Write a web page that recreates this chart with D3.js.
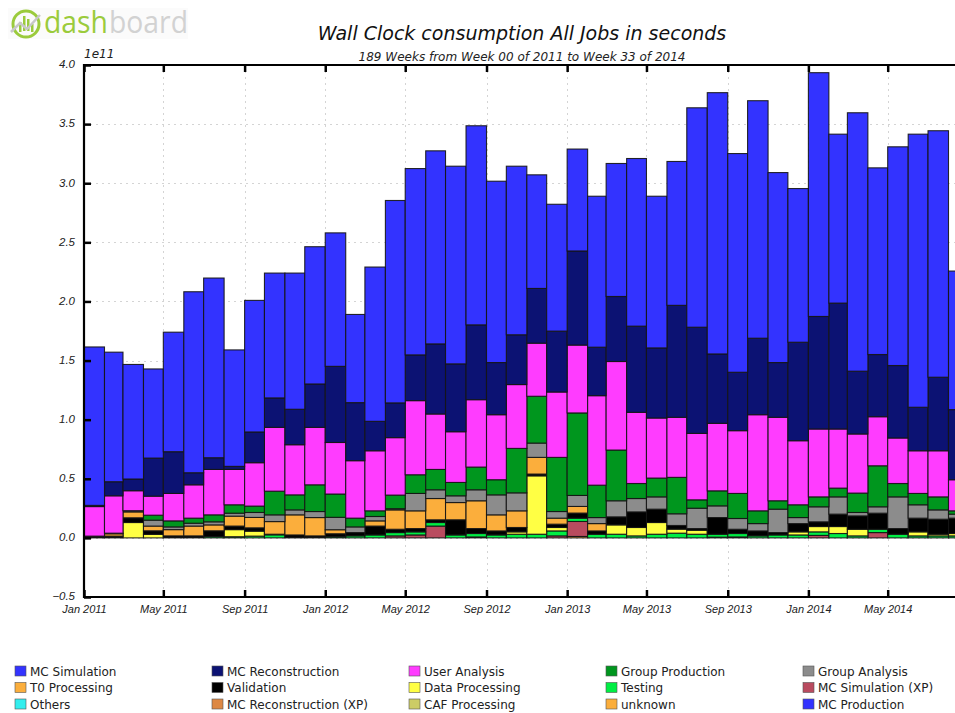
<!DOCTYPE html>
<html>
<head>
<meta charset="utf-8">
<script src="https://cdn.jsdelivr.net/npm/d3@7"></script>
<style>
  html, body { margin: 0; padding: 0; background: #fff; }
  svg { display: block; font-family: "DejaVu Sans", "Liberation Sans", sans-serif; }
</style>
</head>
<body>
<svg id="chart" width="955" height="713"></svg>
<script>
// Monthly bins (start of each month), values in units of 1e11 seconds.
const months = [
  "2011-01","2011-02","2011-03","2011-04","2011-05","2011-06","2011-07","2011-08","2011-09","2011-10","2011-11","2011-12",
  "2012-01","2012-02","2012-03","2012-04","2012-05","2012-06","2012-07","2012-08","2012-09","2012-10","2012-11","2012-12",
  "2013-01","2013-02","2013-03","2013-04","2013-05","2013-06","2013-07","2013-08","2013-09","2013-10","2013-11","2013-12",
  "2014-01","2014-02","2014-03","2014-04","2014-05","2014-06","2014-07","2014-08"
];

const mcSimulation = [
  1.34, 1.096, 0.969, 0.754, 1.011, 1.531, 1.52, 0.985, 1.113, 1.056, 1.152, 1.161,
  1.129, 0.746, 1.305, 1.712, 1.576, 1.633, 1.672, 1.684, 1.534, 1.426, 0.961, 1.073,
  0.862, 1.277, 1.125, 1.418, 1.283, 1.217, 1.856, 2.21, 1.85, 2.009, 1.607, 1.3,
  2.062, 1.429, 2.186, 1.579, 1.85, 2.31, 2.085, 1.172
];
const mcReconstruction = [
  0.01, 0.119, 0.099, 0.322, 0.353, 0.102, 0.099, 0.026, 0.26, 0.249, 0.3, 0.367,
  0.644, 0.491, 0.249, 0.294, 0.387, 0.593, 0.574, 0.633, 0.441, 0.421, 0.463, 0.515,
  0.796, 0.41, 0.55, 0.729, 0.593, 0.947, 0.898, 0.587, 0.494, 0.647, 0.463, 0.833,
  0.952, 1.065, 0.531, 0.526, 0.613, 0.368, 0.622, 0.593
];
const userAnalysis = [
  0.25, 0.316, 0.169, 0.161, 0.232, 0.282, 0.384, 0.299, 0.367, 0.54, 0.424, 0.486,
  0.436, 0.486, 0.508, 0.486, 0.627, 0.469, 0.429, 0.57, 0.55, 0.54, 0.449, 0.553,
  0.574, 0.757, 0.749, 0.602, 0.508, 0.508, 0.562, 0.571, 0.531, 0.813, 0.706, 0.542,
  0.574, 0.5, 0.5, 0.415, 0.385, 0.361, 0.39, 0.263
];
const groupProduction = [
  0, 0, 0, 0.042, 0.051, 0.043, 0.059, 0.071, 0.054, 0.2, 0.127, 0.226,
  0.197, 0.074, 0.048, 0.115, 0.158, 0.172, 0.113, 0.192, 0.128, 0.376, 0.396, 0.458,
  0.698, 0.274, 0.429, 0.127, 0.159, 0.308, 0.071, 0.127, 0.212, 0.108, 0.071, 0.108,
  0.084, 0.074, 0.164, 0.347, 0.113, 0.096, 0.11, 0.028
];
const groupAnalysis = [
  0, 0.005, 0.01, 0.05, 0.023, 0.024, 0.026, 0.025, 0.042, 0.057, 0.042, 0.051,
  0.105, 0.048, 0.037, 0.01, 0.147, 0.074, 0.057, 0.093, 0.169, 0.152, 0.121, 0.056,
  0.093, 0.051, 0.136, 0.113, 0.104, 0.099, 0.172, 0.099, 0.091, 0.062, 0.198, 0.051,
  0.127, 0.146, 0.029, 0.054, 0.268, 0.113, 0.079, 0.034
];
const t0Processing = [
  0, 0.02, 0.05, 0.04, 0.053, 0.083, 0.05, 0.084, 0.088, 0.107, 0.17, 0.155,
  0.034, 0, 0.044, 0.164, 0.15, 0.18, 0.146, 0.235, 0.136, 0.141, 0.141, 0.051,
  0.056, 0.062, 0, 0, 0, 0, 0, 0, 0, 0, 0, 0,
  0, 0, 0, 0, 0, 0, 0, 0
];
const validation = [
  0.01, 0.01, 0.04, 0.03, 0.012, 0.012, 0.049, 0.03, 0.028, 0.005, 0.02, 0.012,
  0.025, 0.028, 0.075, 0.028, 0.028, 0.023, 0.128, 0.042, 0.034, 0.037, 0.015, 0.028,
  0.043, 0.028, 0.068, 0.132, 0.113, 0.031, 0.014, 0.141, 0.036, 0.042, 0.02, 0.07,
  0.04, 0.105, 0.113, 0.136, 0.048, 0.116, 0.127, 0.13
];
const dataProcessing = [
  0, 0, 0.13, 0.03, 0, 0, 0, 0.06, 0.042, 0, 0, 0,
  0, 0, 0, 0, 0, 0, 0, 0, 0, 0.02, 0.494, 0.029,
  0, 0, 0.079, 0.071, 0.099, 0.034, 0.034, 0, 0, 0, 0, 0.026,
  0.045, 0.059, 0.056, 0, 0, 0.034, 0.014, 0.02
];
const testing = [
  0.005, 0.005, 0, 0, 0.005, 0.005, 0.011, 0.01, 0.015, 0.026, 0.005, 0.005,
  0.01, 0.017, 0.025, 0.028, 0.026, 0.03, 0.025, 0.029, 0.025, 0.031, 0.031, 0.042,
  0.028, 0.031, 0.031, 0.017, 0.031, 0.04, 0.031, 0.025, 0.029, 0.017, 0.025, 0.025,
  0.03, 0.037, 0.017, 0.028, 0.031, 0.017, 0.017, 0.017
];
const mcSimulationXP = [
  0, 0, 0, 0, 0, 0, 0, 0, 0, 0, 0, 0,
  0, 0, 0, 0.017, 0.025, 0.1, 0, 0.008, 0, 0, 0, 0.017,
  0.127, 0, 0, 0, 0, 0, 0, 0.006, 0.008, 0, 0, 0,
  0.021, 0, 0, 0.045, 0, 0, 0, 0
];
const unknown = [
  0, 0, 0, 0, 0, 0, 0, 0, 0, 0, 0, 0,
  0, 0, 0, 0, 0, 0, 0, 0, 0, 0, 0, 0,
  0.012, 0, 0, 0, 0, 0, 0, 0, 0, 0, 0, 0,
  0, 0, 0, 0, 0, 0, 0, 0
];
// Activities with no recorded usage in this period (legend only).
const others = [];
const mcReconstructionXP = [];
const cafProcessing = [];
const mcProduction = [];

// Legend order (row-major, five columns); the stack is drawn in reverse.
const seriesNames = [
  "MC Simulation", "MC Reconstruction", "User Analysis", "Group Production", "Group Analysis",
  "T0 Processing", "Validation", "Data Processing", "Testing", "MC Simulation (XP)",
  "Others", "MC Reconstruction (XP)", "CAF Processing", "unknown", "MC Production"
];
const seriesValues = [
  mcSimulation, mcReconstruction, userAnalysis, groupProduction, groupAnalysis,
  t0Processing, validation, dataProcessing, testing, mcSimulationXP,
  others, mcReconstructionXP, cafProcessing, unknown, mcProduction
];
const seriesColors = [
  "#3333ff", "#0c1273", "#ff3cff", "#00961e", "#8c8c8c",
  "#fbae3c", "#000000", "#ffff44", "#00ee44", "#b94b5f",
  "#33eeee", "#dd8844", "#cccc66", "#fbae3c", "#3333ff"
];

const yTicks = [-0.5, 0, 0.5, 1.0, 1.5, 2.0, 2.5, 3.0, 3.5, 4.0];
const xTickLabels = ["2011-01","2011-05","2011-09","2012-01","2012-05","2012-09","2013-01","2013-05","2013-09","2014-01","2014-05"];

const parseMonth = d3.utcParse("%Y-%m");
const svg = d3.select("#chart");

const plot = { left: 84, top: 65, bottom: 597, right: 969 };

const x = d3.scaleUtc()
  .domain([parseMonth("2011-01"), parseMonth("2014-09")])
  .range([plot.left, plot.right]);
const y = d3.scaleLinear()
  .domain([-0.5, 4.0])
  .range([plot.bottom, plot.top]);

// Table: one row per month, one column per activity.
const rows = months.map((m, i) => {
  const row = { start: parseMonth(m), end: d3.utcMonth.offset(parseMonth(m), 1) };
  seriesNames.forEach((name, s) => { row[name] = seriesValues[s][i] || 0; });
  return row;
});

const stackOrder = seriesNames.slice().reverse();
const stacked = d3.stack().keys(stackOrder)(rows);
const colorOf = d3.scaleOrdinal().domain(seriesNames).range(seriesColors);

// Grid
const grid = svg.append("g").attr("stroke", "#d4d4d4").attr("stroke-width", 1)
  .attr("stroke-dasharray", "2,4");
grid.selectAll("line.h").data(yTicks).join("line")
  .attr("x1", plot.left).attr("x2", 955)
  .attr("y1", d => Math.round(y(d)) + 0.5).attr("y2", d => Math.round(y(d)) + 0.5);
grid.selectAll("line.v").data(xTickLabels).join("line")
  .attr("y1", plot.top).attr("y2", plot.bottom)
  .attr("x1", d => Math.round(x(parseMonth(d))) + 0.5).attr("x2", d => Math.round(x(parseMonth(d))) + 0.5);

// Bars
const layers = svg.append("g").selectAll("g").data(stacked).join("g")
  .attr("fill", d => colorOf(d.key));
layers.selectAll("rect")
  .data(d => d.filter(p => p[1] - p[0] > 0))
  .join("rect")
  .attr("x", p => x(p.data.start))
  .attr("width", p => x(p.data.end) - x(p.data.start))
  .attr("y", p => y(p[1]))
  .attr("height", p => y(p[0]) - y(p[1]))
  .attr("stroke", "#141414")
  .attr("stroke-opacity", 0.9)
  .attr("stroke-width", 1.1);

// Axes
const tickStyle = g => {
  g.select(".domain").remove();
  g.selectAll(".tick line").attr("stroke", "#000").attr("stroke-width", 2.5);
  g.selectAll(".tick text").attr("fill", "#222").attr("font-style", "italic");
};

svg.append("g")
  .attr("transform", `translate(${plot.left},0)`)
  .call(d3.axisLeft(y).tickValues(yTicks).tickFormat(d3.format(".1f")).tickSize(-7).tickPadding(9))
  .call(tickStyle)
  .attr("font-size", 11.5)
  .call(g => g.selectAll(".tick text").attr("dy", "0.25em"));

svg.append("g")
  .attr("transform", `translate(0,${plot.bottom})`)
  .call(d3.axisBottom(x).tickValues(xTickLabels.map(parseMonth))
    .tickFormat(d3.utcFormat("%b %Y")).tickSize(-7).tickPadding(8))
  .call(tickStyle)
  .attr("font-size", 11);

svg.append("g")
  .attr("transform", `translate(0,${plot.top})`)
  .call(d3.axisTop(x).tickValues(xTickLabels.map(parseMonth)).tickFormat("").tickSize(-7))
  .call(tickStyle);

// Frame
const frame = svg.append("g").attr("stroke", "#000").attr("stroke-width", 2.2).attr("fill", "none");
frame.append("line").attr("x1", plot.left).attr("x2", plot.left).attr("y1", plot.top - 1).attr("y2", plot.bottom + 1);
frame.append("line").attr("x1", plot.left).attr("x2", 955).attr("y1", plot.top).attr("y2", plot.top);
frame.append("line").attr("x1", plot.left).attr("x2", 955).attr("y1", plot.bottom).attr("y2", plot.bottom);

// Exponent label
svg.append("text").attr("x", plot.left).attr("y", 58)
  .attr("font-size", 12).attr("font-style", "italic").attr("fill", "#222").text("1e11");

// Titles
svg.append("text").attr("x", 522).attr("y", 40).attr("text-anchor", "middle")
  .attr("font-size", 19).attr("font-style", "italic").attr("fill", "#111")
  .text("Wall Clock consumption All Jobs in seconds");
svg.append("text").attr("x", 522).attr("y", 61).attr("text-anchor", "middle")
  .attr("font-size", 12).attr("font-style", "italic").attr("fill", "#222")
  .text("189 Weeks from Week 00 of 2011 to Week 33 of 2014");

// Legend
const legend = svg.append("g");
const item = legend.selectAll("g").data(seriesNames).join("g")
  .attr("transform", (d, i) => `translate(${15 + (i % 5) * 197},${666 + Math.floor(i / 5) * 16.5})`);
item.append("rect").attr("width", 11).attr("height", 10)
  .attr("fill", d => colorOf(d)).attr("stroke", "#555").attr("stroke-width", 0.6);
item.append("text").attr("x", 15).attr("y", 9.5)
  .attr("font-size", 12).attr("fill", "#222").text(d => d);

// Logo
const logo = svg.append("g");
logo.append("rect").attr("x", 8).attr("y", 8).attr("width", 180).attr("height", 31).attr("fill", "#fbfbfb");
logo.append("circle").attr("cx", 26).attr("cy", 24).attr("r", 13)
  .attr("fill", "none").attr("stroke", "#9bcb3c").attr("stroke-width", 3);
[[19, 22, 10], [23, 16, 15], [27, 19, 12], [31, 24, 8]].forEach(([bx, by, bh]) => {
  logo.append("rect").attr("x", bx).attr("y", by).attr("width", 2.5).attr("height", bh).attr("fill", "#9bcb3c");
});
logo.append("path").attr("d", "M11,32 L20,23 L27,29 L40,15")
  .attr("fill", "none").attr("stroke", "#c8c8c8").attr("stroke-width", 2.5);
logo.append("text").attr("x", 44).attr("y", 33).attr("font-size", 31)
  .attr("font-family", "Open Sans, sans-serif").attr("fill", "#9bcb3c")
  .attr("textLength", 64).attr("lengthAdjust", "spacingAndGlyphs").text("dash");
logo.append("text").attr("x", 109).attr("y", 33).attr("font-size", 31)
  .attr("font-family", "Open Sans, sans-serif").attr("fill", "#d2d2d2")
  .attr("textLength", 79).attr("lengthAdjust", "spacingAndGlyphs").text("board");
</script>
</body>
</html>
